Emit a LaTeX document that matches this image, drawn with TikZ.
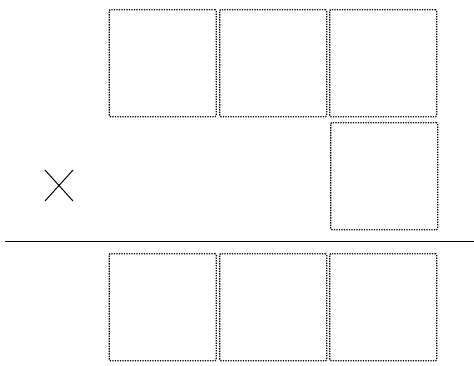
\documentclass[tikz,border=0pt]{standalone}
\begin{document}
\begin{tikzpicture}[x=1pt,y=-1pt,
  digitbox/.style={draw, line width=1.3pt, dash pattern=on 1.3pt off 1.2pt, rounded corners=1pt,
    minimum width=107pt, minimum height=107pt, inner sep=0pt, anchor=north west},
  ruleline/.style={line width=1.6pt},
  crossline/.style={line width=1pt}]
\useasboundingbox (0,0) rectangle (474,365);
\node[digitbox] (a1) at (108.5,9) {};
\node[digitbox] (a2) at (219,9) {};
\node[digitbox] (a3) at (329,9) {};
\node[digitbox] (b3) at (330,122) {};
\coordinate (l1) at (5,241.5);
\coordinate (l2) at (474,241.5);
\draw[ruleline] (l1) -- (l2);
\node[digitbox] (c1) at (108.5,253) {};
\node[digitbox] (c2) at (219,253) {};
\node[digitbox] (c3) at (329,253) {};
\coordinate (x1) at (45,170);
\coordinate (x2) at (73,201);
\coordinate (x3) at (73,170);
\coordinate (x4) at (45,201);
\draw[crossline] (x1) -- (x2) (x3) -- (x4);
\end{tikzpicture}
\end{document}
